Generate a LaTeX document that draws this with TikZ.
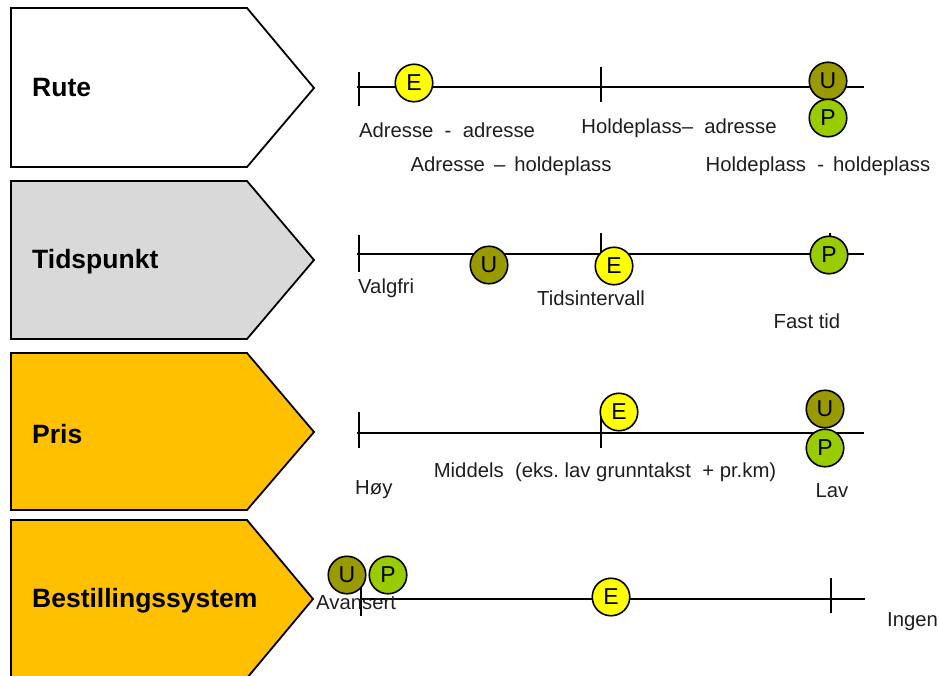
\documentclass[tikz,border=0pt]{standalone}
\usepackage{fontspec}
\setmainfont{Liberation Sans}
\begin{document}
\definecolor{paleGray}{HTML}{D9D9D9}
\definecolor{amber}{HTML}{FFC000}
\definecolor{eYellow}{HTML}{FFFF00}
\definecolor{uOlive}{HTML}{999900}
\definecolor{pGreen}{HTML}{99CC00}
\definecolor{ink}{HTML}{1E1E1E}
\begin{tikzpicture}[x=1pt,y=-1pt,
  arrowbox/.style={draw=black,line width=1.8pt,line join=miter},
  boxlabel/.style={anchor=west,inner sep=0pt,text=black,font=\fontsize{26.5}{29}\bfseries\selectfont},
  axisline/.style={draw=black,line width=1.8pt},
  tickmark/.style={draw=black,line width=1.8pt},
  dot/.style={circle,draw=black,line width=1.6pt,minimum size=37.5pt,inner sep=0pt,
               text=black,font=\fontsize{23}{25}\selectfont},
  emark/.style={dot,fill=eYellow},
  umark/.style={dot,fill=uOlive},
  pmark/.style={dot,fill=pGreen},
  lbl/.style={inner sep=0pt,text=ink,font=\fontsize{20.3}{23}\selectfont}]
\useasboundingbox (0,0) rectangle (939,675);

% ---- category arrows ----
\draw[arrowbox,fill=white]     (11,8)   -- (247,8)   -- (314,88)  -- (247,167) -- (11,167) -- cycle;
\draw[arrowbox,fill=paleGray]  (11,181) -- (247,181) -- (314,260) -- (247,339) -- (11,339) -- cycle;
\draw[arrowbox,fill=amber]     (11,353) -- (247,353) -- (314,432) -- (247,510) -- (11,510) -- cycle;
\draw[arrowbox,fill=amber]     (11,520) -- (247,520) -- (313,599) -- (247,678) -- (11,678) -- cycle;

\node[boxlabel] (rute)  at (32,88)  {Rute};
\node[boxlabel] (tid)   at (32,262) {Tidspunkt};
\node[boxlabel] (pris)  at (32,434) {Pris};
\node[boxlabel] (best)  at (32,601) {Bestillingssystem};

% ---- scale: Rute ----
\coordinate (r1a) at (357,87);  \coordinate (r1b) at (864,87);
\draw[axisline] (r1a) -- (r1b);
\draw[tickmark] (359,72) -- (359,106);
\draw[tickmark] (601,67) -- (601,102);
\node[emark] (r1e) at (414,83)  {E};
\node[umark] (r1u) at (828,81)  {U};
\node[pmark] (r1p) at (828,118) {P};
\node[lbl] (r1t1) at (447,130) {Adresse\ \ -\ \ adresse};
\node[lbl] (r1t2) at (679,128) {Holdeplass–\ \ adresse};
\node[lbl] (r1t3) at (511,166) {Adresse \,–\, holdeplass};
\node[lbl] (r1t4) at (818,166) {Holdeplass\ \ -\, holdeplass};

% ---- scale: Tidspunkt ----
\coordinate (r2a) at (357,254); \coordinate (r2b) at (864,254);
\draw[axisline] (r2a) -- (r2b);
\draw[tickmark] (359,235) -- (359,272);
\draw[tickmark] (601,233) -- (601,262);
\draw[tickmark] (830,233) -- (830,262);
\node[umark] (r2u) at (489,265) {U};
\node[emark] (r2e) at (614,266) {E};
\node[pmark] (r2p) at (829,255) {P};
\node[lbl,anchor=west] (r2t1) at (358,288) {Valgfri};
\node[lbl] (r2t2) at (591,298) {Tidsintervall};
\node[lbl] (r2t3) at (807,321) {Fast tid};

% ---- scale: Pris ----
\coordinate (r3a) at (357,433); \coordinate (r3b) at (864,433);
\draw[axisline] (r3a) -- (r3b);
\draw[tickmark] (359,412) -- (359,448);
\draw[tickmark] (601,413) -- (601,448);
\node[emark] (r3e) at (619,412) {E};
\node[umark] (r3u) at (825,409) {U};
\node[pmark] (r3p) at (825,448) {P};
\node[lbl,anchor=west] (r3t1) at (355,490) {Høy};
\node[lbl] (r3t2) at (605,472) {Middels\ \ (eks.\ lav\ grunntakst\ \ +\ pr.km)};
\node[lbl] (r3t3) at (832,491) {Lav};

% ---- scale: Bestillingssystem ----
\coordinate (r4a) at (360,599); \coordinate (r4b) at (865,599);
\draw[axisline] (r4a) -- (r4b);
\draw[tickmark] (361,585) -- (361,616);
\draw[tickmark] (831,578) -- (831,613);
\node[umark] (r4u) at (347,575) {U};
\node[pmark] (r4p) at (388,575) {P};
\node[emark] (r4e) at (611,597) {E};
\node[lbl,anchor=west] (r4t1) at (316,603) {Avansert};
\node[lbl,anchor=west] (r4t2) at (887,622) {Ingen};
\end{tikzpicture}
\end{document}
